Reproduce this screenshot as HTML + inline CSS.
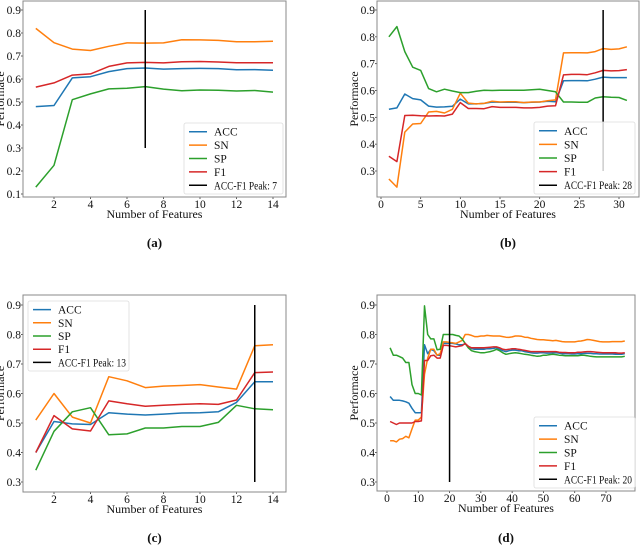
<!DOCTYPE html>
<html><head><meta charset="utf-8">
<style>
html,body{margin:0;padding:0;background:#fff;}
svg{display:block;font-family:"Liberation Serif",serif;}
</style></head>
<body>
<svg id="chart" width="640" height="558" viewBox="0 0 640 558" xmlns="http://www.w3.org/2000/svg"></svg>
<script>
const seriesNames = ["ACC","SN","SP","F1"];
const seriesColors = ["#1f77b4","#ff7f0e","#2ca02c","#d62728"];

const aACC = [.48,.485,.605,.61,.632,.645,.648,.643,.645,.646,.645,.64,.641,.638];
const aSN  = [.82,.758,.73,.724,.742,.757,.756,.757,.771,.77,.768,.762,.762,.764];
const aSP  = [.13,.225,.51,.535,.557,.56,.567,.556,.549,.552,.551,.548,.55,.543];
const aF1  = [.565,.583,.617,.622,.655,.67,.672,.67,.675,.676,.674,.671,.671,.671];
const aPeak = 7;

const bACC = [.53,.535,.587,.57,.565,.542,.538,.539,.541,.568,.55,.55,.552,.557,.556,.556,.556,.555,.556,.557,.56,.558,.636,.637,.637,.636,.642,.65,.648,.648,.648];
const bSN  = [.27,.24,.445,.475,.477,.52,.522,.516,.53,.59,.553,.55,.552,.56,.557,.558,.558,.555,.557,.557,.562,.565,.74,.741,.741,.74,.745,.756,.753,.755,.763];
const bSP  = [.8,.838,.745,.687,.675,.607,.595,.605,.598,.592,.592,.597,.601,.6,.601,.601,.601,.601,.603,.605,.6,.595,.557,.557,.556,.556,.572,.577,.575,.574,.563];
const bF1  = [.355,.335,.507,.508,.506,.505,.506,.505,.512,.555,.533,.533,.532,.54,.537,.537,.537,.535,.535,.537,.542,.543,.658,.66,.66,.659,.666,.675,.673,.674,.678];
const bPeak = 28;

const cACC = [.4,.505,.497,.495,.535,.53,.527,.53,.534,.535,.538,.57,.64,.64];
const cSN  = [.51,.6,.52,.5,.657,.643,.62,.625,.627,.63,.622,.615,.762,.765];
const cSP  = [.34,.472,.538,.552,.46,.463,.483,.483,.488,.488,.502,.56,.548,.545];
const cF1  = [.4,.525,.48,.473,.575,.565,.557,.56,.563,.565,.563,.578,.671,.673];
const cPeak = 13;

const dACC = [.59,.577,.577,.577,.575,.572,.567,.55,.535,.535,.535,.765,.735,.75,.745,.73,.73,.77,.77,.77,.77,.768,.765,.765,.768,.76,.752,.75,.75,.75,.75,.752,.752,.753,.755,.75,.745,.742,.745,.747,.747,.745,.745,.742,.74,.738,.737,.737,.738,.738,.737,.737,.738,.738,.737,.735,.735,.735,.734,.734,.735,.735,.736,.736,.736,.735,.735,.734,.734,.734,.734,.734,.733,.733,.733,.735];
const dSN  = [.44,.44,.436,.445,.447,.455,.45,.48,.51,.51,.52,.665,.72,.75,.75,.73,.735,.775,.775,.773,.772,.77,.775,.78,.8,.8,.797,.793,.793,.795,.795,.797,.796,.795,.795,.795,.793,.791,.79,.792,.795,.795,.794,.791,.79,.787,.785,.783,.782,.782,.781,.78,.779,.78,.778,.776,.775,.775,.775,.775,.777,.778,.78,.783,.782,.78,.778,.776,.775,.775,.775,.776,.776,.776,.776,.778];
const dSP  = [.755,.73,.73,.725,.72,.705,.705,.63,.6,.6,.595,.897,.8,.785,.785,.748,.75,.8,.8,.8,.8,.797,.795,.785,.77,.755,.745,.742,.74,.738,.738,.74,.742,.745,.75,.745,.738,.733,.735,.737,.738,.737,.735,.733,.732,.73,.728,.726,.727,.73,.73,.732,.733,.732,.73,.729,.728,.728,.728,.728,.728,.73,.73,.728,.726,.725,.724,.724,.724,.724,.724,.724,.724,.724,.724,.726];
const dF1  = [.505,.5,.495,.5,.5,.5,.5,.5,.505,.505,.507,.712,.712,.728,.73,.72,.72,.763,.763,.762,.76,.758,.76,.762,.77,.76,.755,.755,.755,.755,.755,.756,.757,.758,.758,.755,.75,.748,.75,.752,.752,.75,.748,.746,.744,.742,.742,.742,.742,.742,.742,.742,.742,.742,.74,.739,.739,.738,.738,.738,.74,.74,.741,.742,.742,.741,.74,.739,.738,.738,.738,.738,.738,.737,.737,.738];
const dPeak = 20;

const NS = "http://www.w3.org/2000/svg";
const svg = document.getElementById("chart");
function mk(tag, attrs, parent){
  const e = document.createElementNS(NS, tag);
  for (const k in attrs) e.setAttribute(k, attrs[k]);
  (parent||svg).appendChild(e);
  return e;
}

function panel(cfg){
  const g = mk("g", {});
  
  
  const X = v => cfg.x0 + (v - cfg.xa) / (cfg.xb - cfg.xa) * (cfg.x1 - cfg.x0);
  const Y = v => cfg.y0 + (v - cfg.ya) / (cfg.yb - cfg.ya) * (cfg.y1 - cfg.y0);
  cfg.xticks.forEach(t => {
    const tx = X(t);
    mk("line", {x1:tx, x2:tx, y1:cfg.bottom, y2:cfg.bottom+2, stroke:"#333", "stroke-width":0.8}, g);
    const lbl = mk("text", {x:tx, y:cfg.bottom+11, "text-anchor":"middle", "font-size":11.5, fill:"#111"}, g);
    lbl.textContent = t;
    
    
  });
  cfg.yticks.forEach(t => {
    const ty = Y(t);
    mk("line", {x1:cfg.left-2, x2:cfg.left, y1:ty, y2:ty, stroke:"#333", "stroke-width":0.8}, g);
    const lbl = mk("text", {x:cfg.left-2, y:ty+4, "text-anchor":"end", "font-size":11.5, fill:"#111"}, g);
    lbl.textContent = t.toFixed(1);
    
    
  });
  cfg.series.forEach((arr, si) => {
    const pts = arr.map((v, i) => X(i + 1).toFixed(1) + "," + Y(v).toFixed(1)).join(" ");
    const pl = mk("polyline", {points:pts, fill:"none", stroke:seriesColors[si], "stroke-width":1.5, "stroke-linejoin":"round"}, g);
    
    
  });
  const pk = mk("line", {x1:X(cfg.peak), x2:X(cfg.peak), y1:Y(0.3), y2:Y(0.9), stroke:"#000", "stroke-width":1.5}, g);
  
  
  mk("rect", {x:cfg.left, y:cfg.top, width:cfg.right-cfg.left, height:cfg.bottom-cfg.top, fill:"none", stroke:"#888", "stroke-width":1}, g);
  const L = cfg.legend;
  const lg = mk("g", {}, g);
  
  
  mk("rect", {x:L[0], y:L[1], width:L[2]-L[0], height:L[3]-L[1], rx:2, fill:"#fff", "fill-opacity":0.8, stroke:"#ddd", "stroke-width":0.8}, lg);
  const labels = seriesNames.concat(["ACC-F1 Peak: " + cfg.peak]);
  const colors = seriesColors.concat(["#000"]);
  const step = (L[3]-L[1]-4) / 5;
  labels.forEach((s, i) => {
    const yy = L[1] + 2 + step*(i+0.5);
    const ent = mk("g", {}, lg);
    
    
    mk("line", {x1:L[0]+5, x2:L[0]+23, y1:yy, y2:yy, stroke:colors[i], "stroke-width":1.5}, ent);
    const attrs = {x:L[0]+30, y:yy+4, "font-size":11.5, fill:"#111"};
    if (i === 4) { attrs.textLength = cfg.peakW; attrs.lengthAdjust = "spacingAndGlyphs"; }
    const t = mk("text", attrs, ent);
    t.textContent = s;
  });
  const xl = mk("text", {x:(cfg.left+cfg.right)/2, y:cfg.bottom+21, "text-anchor":"middle", "font-size":12, fill:"#111"}, g);
  xl.textContent = "Number of Features";
  
  
  const yl = mk("text", {x:0, y:0, "text-anchor":"middle", "font-size":12, fill:"#111", transform:"translate(" + cfg.ylabelX + "," + ((cfg.top+cfg.bottom)/2) + ") rotate(-90)"}, g);
  yl.textContent = "Performace";
  
  
  const cap = mk("text", {x:(cfg.left+cfg.right)/2, y:cfg.capY, "text-anchor":"middle", "font-size":13, "font-weight":"bold", fill:"#111"}, g);
  cap.textContent = "(" + cfg.id + ")";
  
  
}

panel({id:"a", left:23, right:286, top:1, bottom:197,
  xa:2, xb:14, x0:54, x1:273, ya:0.1, yb:0.9, y0:194, y1:10,
  xticks:[2,4,6,8,10,12,14], yticks:[0.1,0.2,0.3,0.4,0.5,0.6,0.7,0.8,0.9],
  series:[aACC,aSN,aSP,aF1], peak:aPeak, legend:[184,123,283,194], peakW:63,
  ylabelX:4, capY:247});
panel({id:"b", left:377, right:639, top:1, bottom:197,
  xa:0, xb:30, x0:381, x1:619, ya:0.3, yb:0.9, y0:171, y1:10,
  xticks:[0,5,10,15,20,25,30], yticks:[0.3,0.4,0.5,0.6,0.7,0.8,0.9],
  series:[bACC,bSN,bSP,bF1], peak:bPeak, legend:[534,122,635,194], peakW:68,
  ylabelX:358, capY:247});
panel({id:"c", left:23, right:286, top:295, bottom:492,
  xa:2, xb:14, x0:54, x1:273, ya:0.3, yb:0.9, y0:482, y1:305,
  xticks:[2,4,6,8,10,12,14], yticks:[0.3,0.4,0.5,0.6,0.7,0.8,0.9],
  series:[cACC,cSN,cSP,cF1], peak:cPeak, legend:[28,301,129,371], peakW:68,
  ylabelX:4, capY:542});
panel({id:"d", left:377, right:635, top:295, bottom:491,
  xa:0, xb:70, x0:387, x1:606, ya:0.3, yb:0.9, y0:482, y1:305,
  xticks:[0,10,20,30,40,50,60,70], yticks:[0.3,0.4,0.5,0.6,0.7,0.8,0.9],
  series:[dACC,dSN,dSP,dF1], peak:dPeak, legend:[534,417,635,488], peakW:68,
  ylabelX:358, capY:542});
</script>
</body></html>
